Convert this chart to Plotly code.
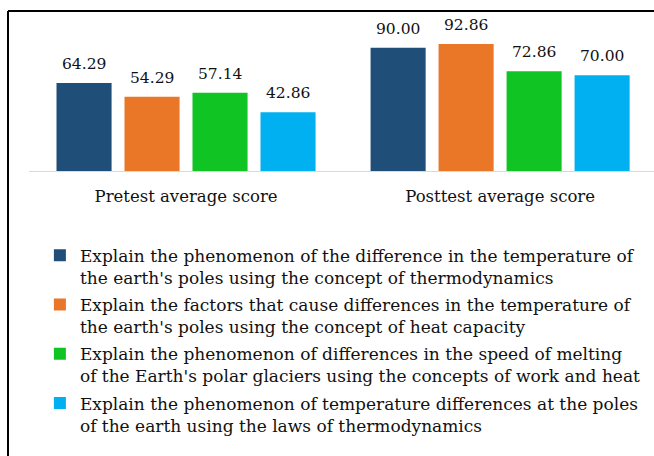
import plotly.graph_objects as go

categories = ["Pretest average score", "Posttest average score"]
series_names = [
    "Explain the phenomenon of the difference in the temperature of<br>the earth's poles using the concept of thermodynamics",
    "Explain the factors that cause differences in the temperature of<br>the earth's poles using the concept of heat capacity",
    "Explain the phenomenon of differences in the speed of melting<br>of the Earth's polar glaciers using the concepts of work and heat",
    "Explain the phenomenon of temperature differences at the poles<br>of the earth using the laws of thermodynamics",
]
series_values = [
    [64.29, 90.00],
    [54.29, 92.86],
    [57.14, 72.86],
    [42.86, 70.00],
]
colors = ["#1F4E79", "#EA7628", "#10C424", "#00B0F0"]

FONT = "DejaVu Serif"
TXT = "#111111"
bargap = 0.134
n = len(series_values)
slot = (1 - bargap) / n

fig = go.Figure()
for i, (name, vals) in enumerate(zip(series_names, series_values)):
    fig.add_trace(go.Bar(
        x=list(range(len(categories))), y=vals, name=name,
        marker=dict(color=colors[i], line=dict(width=0)),
        legendgroup=f"g{i}",
    ))
    for j, v in enumerate(vals):
        fig.add_annotation(
            x=j + (i - (n - 1) / 2) * slot, y=v, xref="x", yref="y",
            text=f"{v:.2f}", showarrow=False, yanchor="bottom", yshift=8,
            font=dict(family=FONT, size=15.5, color=TXT),
        )

# border (top and left edges visible)
fig.add_shape(type="line", xref="paper", yref="paper", x0=-0.0336, x1=1.05,
              y0=1.0596, y1=1.0596, line=dict(color="black", width=2))
fig.add_shape(type="line", xref="paper", yref="paper", x0=-0.0336, x1=-0.0336,
              y0=1.0596, y1=-1.95, line=dict(color="black", width=2))

fig.update_layout(
    width=654, height=456,
    margin=dict(l=29, r=0, t=20, b=285, autoexpand=False),
    paper_bgcolor="white", plot_bgcolor="white",
    barmode="group", bargap=bargap, bargroupgap=0.19,
    font=dict(family=FONT, size=16, color=TXT),
    xaxis=dict(
        tickmode="array", tickvals=list(range(len(categories))), ticktext=categories,
        range=[-0.5, 1.49], showline=True, linecolor="#D9D9D9", linewidth=1,
        showgrid=False, zeroline=False, ticks="", ticklabelstandoff=10,
        tickfont=dict(family=FONT, size=16.5, color=TXT),
    ),
    yaxis=dict(range=[0, 110.3], visible=False),
    showlegend=True,
    legend=dict(
        xref="container", yref="container",
        x=0.061, y=0.4785, xanchor="left", yanchor="top",
        font=dict(family=FONT, size=17, color=TXT),
        valign="top", tracegroupgap=2, itemwidth=30,
        bgcolor="rgba(0,0,0,0)",
    ),
)

fig.write_html("out.html", config={"displayModeBar": False},
               post_script="document.body.style.margin='0';")
